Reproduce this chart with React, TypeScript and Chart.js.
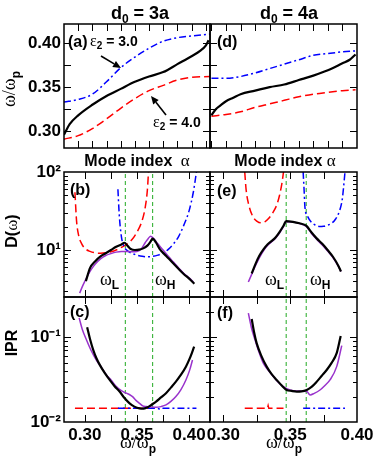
import React, { useEffect, useRef } from 'react';
import { Chart, registerables } from 'chart.js';
Chart.register(...registerables);

// ---------------- data ----------------
// (a) d0 = 3a : omega/omega_p vs mode index
const aIdxBlack = [0, 4, 10, 20, 30, 40, 50, 60, 70, 80, 90, 96, 100, 102];
const aBlack = [0.296, 0.308, 0.318, 0.330, 0.340, 0.348, 0.356, 0.362, 0.367, 0.376, 0.385, 0.391, 0.397, 0.403];
const aIdx = [0, 10, 20, 30, 40, 50, 60, 70, 80, 90, 103];
const aRed = [0.291, 0.295, 0.303, 0.314, 0.326, 0.337, 0.346, 0.352, 0.358, 0.361, 0.362];
const aBlue = [0.333, 0.336, 0.342, 0.356, 0.372, 0.384, 0.394, 0.402, 0.406, 0.408, 0.410];

// (d) d0 = 4a
const dIdxBlack = [0, 3, 6, 10, 15, 20, 30, 40, 50, 60, 70, 80, 90, 95, 99];
const dBlack = [0.318, 0.325, 0.329, 0.334, 0.338, 0.342, 0.346, 0.350, 0.353, 0.358, 0.363, 0.369, 0.377, 0.381, 0.387];
const dIdx = [0, 10, 20, 30, 40, 50, 60, 70, 80, 90, 99];
const dRed = [0.317, 0.319, 0.322, 0.327, 0.331, 0.335, 0.339, 0.342, 0.344, 0.346, 0.347];
const dBlue = [0.360, 0.360, 0.362, 0.366, 0.371, 0.376, 0.381, 0.386, 0.388, 0.390, 0.391];

// (b) DOS, d0 = 3a
const bRedW = [0.2905, 0.292, 0.294, 0.297, 0.300, 0.305, 0.310, 0.315, 0.320, 0.325, 0.330, 0.335, 0.340, 0.345, 0.350, 0.355, 0.358, 0.360, 0.361];
const bRedD = [55, 24, 15.5, 12, 10.5, 9.6, 9.2, 9.1, 9.2, 9.5, 10, 10.8, 11.8, 13.5, 17, 24, 36, 60, 100];
const bBlueW = [0.3317, 0.333, 0.335, 0.337, 0.340, 0.345, 0.350, 0.355, 0.360, 0.365, 0.370, 0.375, 0.380, 0.385, 0.390, 0.395, 0.400, 0.404, 0.407];
const bBlueD = [60, 28, 15, 11.5, 10, 9.1, 8.6, 8.3, 8.2, 8.3, 8.6, 9.1, 10.2, 12, 15, 21, 32, 55, 100];
const bBlackW = [0.301, 0.305, 0.310, 0.315, 0.320, 0.325, 0.330, 0.335, 0.338, 0.341, 0.344, 0.348, 0.352, 0.356, 0.360, 0.363, 0.365, 0.368, 0.372, 0.378, 0.384, 0.390, 0.395, 0.400, 0.405];
const bBlackD = [4.0, 5.9, 7.2, 8.3, 9.1, 10.0, 11.0, 11.8, 12.4, 11.3, 10.3, 10.0, 10.1, 10.5, 11.4, 12.8, 14.0, 12.6, 10.2, 8.4, 6.9, 5.7, 4.9, 4.3, 3.7];
const bPurpleW = [0.295, 0.298, 0.302, 0.306, 0.310, 0.315, 0.320, 0.325, 0.330, 0.335, 0.340, 0.345, 0.350, 0.354, 0.358, 0.361, 0.363, 0.366, 0.370, 0.375, 0.380, 0.385, 0.390, 0.395, 0.400, 0.404];
const bPurpleD = [2.8, 3.5, 4.5, 5.6, 6.6, 7.7, 8.5, 9.0, 9.4, 9.6, 9.6, 9.5, 9.6, 10.3, 12.5, 14.2, 15.0, 14.0, 12.0, 10.0, 8.3, 7.0, 5.9, 5.0, 4.4, 3.9];

// (e) DOS, d0 = 4a
const eRedW = [0.316, 0.317, 0.319, 0.322, 0.325, 0.328, 0.331, 0.334, 0.337, 0.340, 0.342, 0.344, 0.345];
const eRedD = [100, 60, 38, 27, 23.5, 22.3, 23, 25.5, 30, 38, 50, 75, 100];
const eBlueW = [0.3597, 0.3605, 0.361, 0.363, 0.366, 0.369, 0.372, 0.375, 0.378, 0.381, 0.384, 0.387, 0.389, 0.390, 0.391];
const eBlueD = [100, 55, 36, 27, 22.5, 20.8, 20, 20.2, 20.8, 22, 25, 32, 45, 65, 100];
const eBlackW = [0.3212, 0.324, 0.327, 0.330, 0.333, 0.336, 0.339, 0.342, 0.345, 0.347, 0.352, 0.357, 0.362, 0.366, 0.370, 0.374, 0.378, 0.382, 0.386, 0.388];
const eBlackD = [5.0, 6.6, 8.5, 10.2, 11.8, 13.0, 14.5, 17, 20.5, 23.5, 23, 22, 20.5, 16.8, 14, 12, 10, 8.2, 6.3, 5.3];
const ePurpleW = [0.3187, 0.321, 0.324, 0.327, 0.330, 0.333, 0.336, 0.339, 0.342, 0.345, 0.347, 0.352, 0.357, 0.362, 0.366, 0.370, 0.374, 0.378, 0.382, 0.386, 0.388];
const ePurpleD = [3.9, 4.8, 6.3, 8.0, 9.8, 11.4, 12.7, 14.2, 16.5, 20, 23, 22.8, 21.8, 20, 16.3, 13.6, 11.6, 9.7, 8.0, 6.2, 5.3];

// (c) IPR, d0 = 3a
const cBlackW = [0.3022, 0.305, 0.308, 0.311, 0.3143, 0.319, 0.3238, 0.3285, 0.3333, 0.338, 0.3429, 0.3475, 0.3524, 0.3565, 0.3603, 0.364, 0.3683, 0.373, 0.3778, 0.3825, 0.3873, 0.392, 0.3969, 0.401, 0.4048];
const cBlackI = [0.132, 0.095, 0.0712, 0.057, 0.0473, 0.038, 0.0314, 0.0265, 0.0229, 0.0192, 0.0166, 0.0152, 0.0145, 0.0144, 0.0149, 0.016, 0.0174, 0.0195, 0.0219, 0.0255, 0.030, 0.036, 0.0451, 0.058, 0.0778];
const cPurpleW = [0.2945, 0.2975, 0.3016, 0.306, 0.311, 0.316, 0.3207, 0.3255, 0.3302, 0.335, 0.3397, 0.343, 0.346, 0.349, 0.3524, 0.3555, 0.3587, 0.3635, 0.3683, 0.373, 0.3778, 0.3825, 0.3873, 0.392, 0.3969, 0.4005, 0.4032];
const cPurpleI = [0.17, 0.125, 0.093, 0.07, 0.054, 0.044, 0.036, 0.031, 0.0262, 0.0235, 0.0219, 0.021, 0.0198, 0.018, 0.0166, 0.0155, 0.0152, 0.015, 0.0149, 0.0152, 0.0159, 0.0175, 0.020, 0.024, 0.0314, 0.041, 0.054];
const cRedW = [0.2905, 0.300, 0.310, 0.320, 0.330, 0.340, 0.350, 0.361];
const cRedI = [0.0145, 0.0145, 0.0145, 0.0145, 0.0145, 0.0145, 0.0145, 0.0145];
const cBlueW = [0.3317, 0.340, 0.350, 0.360, 0.370, 0.372, 0.374, 0.380, 0.390, 0.400, 0.407];
const cBlueI = [0.0145, 0.0145, 0.0145, 0.0145, 0.0145, 0.0141, 0.0145, 0.0145, 0.0145, 0.0145, 0.0145];

// (f) IPR, d0 = 4a
const fBlackW = [0.3212, 0.323, 0.3249, 0.3285, 0.3324, 0.336, 0.3399, 0.3435, 0.3474, 0.351, 0.3549, 0.3585, 0.3624, 0.366, 0.3699, 0.3735, 0.3773, 0.381, 0.3848, 0.3878];
const fBlackI = [0.165, 0.115, 0.0854, 0.06, 0.0451, 0.037, 0.0314, 0.0272, 0.0239, 0.0233, 0.0229, 0.023, 0.0239, 0.026, 0.030, 0.035, 0.0412, 0.05, 0.065, 0.104];
const fPurpleW = [0.3187, 0.321, 0.3237, 0.3265, 0.3299, 0.3335, 0.3374, 0.341, 0.3449, 0.3499, 0.355, 0.3624, 0.3649, 0.368, 0.3723, 0.376, 0.3798, 0.3848, 0.3886];
const fPurpleI = [0.193, 0.13, 0.0934, 0.068, 0.0495, 0.041, 0.0344, 0.0295, 0.0262, 0.0239, 0.0232, 0.0229, 0.0209, 0.0218, 0.0239, 0.027, 0.0314, 0.0451, 0.080];
const fRedW = [0.316, 0.325, 0.333, 0.3335, 0.334, 0.345];
const fRedI = [0.0145, 0.0145, 0.0145, 0.0156, 0.0145, 0.0145];
const fBlueW = [0.3597, 0.370, 0.380, 0.391];
const fBlueI = [0.0145, 0.0145, 0.0145, 0.0145];

// vertical markers omega_L, omega_H
const omegaLH3 = [0.3388, 0.365];
const omegaLH4 = [0.347, 0.362];

// axis ticks
const idxTicks3 = [0, 10, 20, 30, 40, 50, 60, 70, 80, 90, 100];
const idxTicks4 = [0, 10, 20, 30, 40, 50, 60, 70, 80, 90];
const freqTicks = [0.30, 0.325, 0.35, 0.375, 0.40];
const freqLabels = [0.30, 0.35, 0.40];
const dosTicks = [3, 4, 5, 6, 7, 8, 9, 10, 20, 30, 40, 50, 60, 70, 80, 90, 100];
const dosMajor = [10, 100];
const iprTicks = [0.01, 0.02, 0.03, 0.04, 0.05, 0.06, 0.07, 0.08, 0.09, 0.1, 0.2, 0.3];
const iprMajor = [0.01, 0.1];

// ---------------- layout / style ----------------
const CW = 420, CH = 500;
const FONT = "'Liberation Sans', Arial, Helvetica, sans-serif";
const SERIF = "'Liberation Serif', 'Times New Roman', serif";
const LEFT = [64, 210];
const RIGHT = [210, 357];
const ROW_A = [24, 148];
const ROW_B = [172, 297];
const ROW_C = [297, 422];

const pts = (xs: number[], ys: number[]) => xs.map((x, i) => ({ x, y: ys[i] }));
const near = (arr: number[], v: number) => arr.some((a) => Math.abs(a - v) < 1e-9);
const sup: Record<string, string> = { '100': '10²', '10': '10¹', '0.1': '10⁻¹', '0.01': '10⁻²' };

const sBlack = { borderColor: '#000000', borderWidth: 2.2 };
const sPurple = { borderColor: '#9933cc', borderWidth: 1.5 };
const sRed = { borderColor: '#ff0000', borderWidth: 1.5, borderDash: [8, 4] };
const sBlue = { borderColor: '#0000ff', borderWidth: 1.5, borderDash: [7, 3, 2, 3] };
const sGreen = { borderColor: '#22aa22', borderWidth: 1, borderDash: [4, 3] };

function ds(style: any, data: any[], smooth = true) {
  return {
    data,
    ...style,
    pointRadius: 0,
    fill: false,
    cubicInterpolationMode: smooth ? 'monotone' : 'default',
    tension: 0,
  };
}

function vlines(ws: number[], y0: number, y1: number) {
  return ws.map((w) => ds(sGreen, [{ x: w, y: y0 }, { x: w, y: y1 }], false));
}

const frameTicks = {
  id: 'frameTicks',
  afterDatasetsDraw(chart: any) {
    const { ctx, chartArea: a } = chart;
    const xs = chart.scales.x;
    const ys = chart.scales.y;
    ctx.save();
    ctx.strokeStyle = '#000';
    ctx.lineWidth = 1;
    ctx.beginPath();
    for (const t of xs.ticks) {
      const p = Math.round(xs.getPixelForValue(t.value)) + 0.5;
      if (p < a.left + 1 || p > a.right - 1) continue;
      const len = t.major ? 7 : 4;
      ctx.moveTo(p, a.bottom);
      ctx.lineTo(p, a.bottom - len);
      ctx.moveTo(p, a.top);
      ctx.lineTo(p, a.top + len);
    }
    for (const t of ys.ticks) {
      const p = Math.round(ys.getPixelForValue(t.value)) + 0.5;
      if (p < a.top + 1 || p > a.bottom - 1) continue;
      const len = t.major ? 7 : 4;
      ctx.moveTo(a.left, p);
      ctx.lineTo(a.left + len, p);
      ctx.moveTo(a.right, p);
      ctx.lineTo(a.right - len, p);
    }
    ctx.stroke();
    ctx.lineWidth = 1.5;
    ctx.strokeRect(a.left, a.top, a.right - a.left, a.bottom - a.top);
    ctx.restore();
  },
};

type AxisSpec = {
  type: 'linear' | 'logarithmic';
  min: number;
  max: number;
  ticks: number[];
  major?: number[];
  labels?: number[];
  fmt?: (v: number) => string;
};

type PanelSpec = {
  xr: number[];
  yr: number[];
  x: AxisSpec;
  y: AxisSpec;
  showX: boolean;
  showY: boolean;
  datasets: any[];
};

function axis(spec: AxisSpec, show: boolean, isX: boolean, size: number) {
  return {
    type: spec.type,
    min: spec.min,
    max: spec.max,
    afterBuildTicks: (s: any) => {
      s.ticks = spec.ticks.map((v) => ({ value: v, major: spec.major ? near(spec.major, v) : true }));
    },
    afterFit: (s: any) => {
      if (isX) s.height = size;
      else s.width = size;
    },
    ticks: {
      display: show,
      autoSkip: false,
      maxRotation: 0,
      minRotation: 0,
      padding: 3,
      color: '#000',
      font: { family: FONT, size: 17, weight: 'bold' },
      callback: (v: number) => (spec.labels && near(spec.labels, v) && spec.fmt ? spec.fmt(v) : ''),
    },
    grid: { display: false, drawTicks: false },
    border: { display: false },
  };
}

function buildConfig(p: PanelSpec): any {
  const xAxisH = p.showX ? 40 : 0;
  const yAxisW = p.showY ? p.xr[0] : 0;
  return {
    type: 'line',
    data: { datasets: p.datasets },
    plugins: [frameTicks],
    options: {
      responsive: false,
      animation: false,
      events: [],
      parsing: true,
      layout: {
        padding: {
          left: p.showY ? 0 : p.xr[0],
          right: CW - p.xr[1],
          top: p.yr[0],
          bottom: CH - p.yr[1] - xAxisH,
        },
      },
      plugins: { legend: { display: false }, tooltip: { enabled: false }, title: { display: false } },
      scales: {
        x: axis(p.x, p.showX, true, xAxisH),
        y: axis(p.y, p.showY, false, yAxisW),
      },
    },
  };
}

const fmt2 = (v: number) => v.toFixed(2);
const fmtPow = (v: number) => sup[String(v)] || '';

const freqAxis: AxisSpec = { type: 'linear', min: 0.281, max: 0.4215, ticks: freqTicks, labels: freqLabels, fmt: fmt2 };
const dosAxis: AxisSpec = { type: 'logarithmic', min: 2.5, max: 100, ticks: dosTicks, major: dosMajor, labels: dosMajor, fmt: fmtPow };
const iprAxis: AxisSpec = { type: 'logarithmic', min: 0.01, max: 0.3, ticks: iprTicks, major: iprMajor, labels: iprMajor, fmt: fmtPow };
const w3Axis: AxisSpec = { type: 'linear', min: 0.28, max: 0.42, ticks: freqTicks, labels: freqLabels, fmt: fmt2 };
const w4Axis: AxisSpec = { type: 'linear', min: 0.29, max: 0.40, ticks: freqTicks, labels: freqLabels, fmt: fmt2 };

const panels: PanelSpec[] = [
  {
    xr: LEFT, yr: ROW_A, showX: false, showY: true,
    x: { type: 'linear', min: 0, max: 103, ticks: idxTicks3 },
    y: freqAxis,
    datasets: [ds(sBlack, pts(aIdxBlack, aBlack)), ds(sBlue, pts(aIdx, aBlue)), ds(sRed, pts(aIdx, aRed))],
  },
  {
    xr: RIGHT, yr: ROW_A, showX: false, showY: false,
    x: { type: 'linear', min: -1, max: 100, ticks: idxTicks4 },
    y: freqAxis,
    datasets: [ds(sBlack, pts(dIdxBlack, dBlack)), ds(sBlue, pts(dIdx, dBlue)), ds(sRed, pts(dIdx, dRed))],
  },
  {
    xr: LEFT, yr: ROW_B, showX: false, showY: true,
    x: w3Axis, y: dosAxis,
    datasets: [
      ds(sBlack, pts(bBlackW, bBlackD)),
      ds(sPurple, pts(bPurpleW, bPurpleD)),
      ds(sBlue, pts(bBlueW, bBlueD)),
      ds(sRed, pts(bRedW, bRedD)),
      ...vlines(omegaLH3, 2.5, 100),
    ],
  },
  {
    xr: RIGHT, yr: ROW_B, showX: false, showY: false,
    x: w4Axis, y: dosAxis,
    datasets: [
      ds(sBlack, pts(eBlackW, eBlackD)),
      ds(sPurple, pts(ePurpleW, ePurpleD)),
      ds(sBlue, pts(eBlueW, eBlueD)),
      ds(sRed, pts(eRedW, eRedD)),
      ...vlines(omegaLH4, 2.5, 100),
    ],
  },
  {
    xr: LEFT, yr: ROW_C, showX: true, showY: true,
    x: w3Axis, y: iprAxis,
    datasets: [
      ds(sBlack, pts(cBlackW, cBlackI)),
      ds(sPurple, pts(cPurpleW, cPurpleI)),
      ds(sBlue, pts(cBlueW, cBlueI), false),
      ds(sRed, pts(cRedW, cRedI), false),
      ...vlines(omegaLH3, 0.01, 0.3),
    ],
  },
  {
    xr: RIGHT, yr: ROW_C, showX: true, showY: false,
    x: w4Axis, y: iprAxis,
    datasets: [
      ds(sBlack, pts(fBlackW, fBlackI)),
      ds(sPurple, pts(fPurpleW, fPurpleI)),
      ds(sBlue, pts(fBlueW, fBlueI), false),
      ds(sRed, pts(fRedW, fRedI), false),
      ...vlines(omegaLH4, 0.01, 0.3),
    ],
  },
];

function Panel({ spec }: { spec: PanelSpec }) {
  const ref = useRef<HTMLCanvasElement>(null);
  useEffect(() => {
    const chart = new Chart(ref.current as HTMLCanvasElement, buildConfig(spec));
    return () => chart.destroy();
  }, [spec]);
  return (
    <canvas
      ref={ref}
      width={CW}
      height={CH}
      style={{ position: 'absolute', left: 0, top: 0, width: CW, height: CH }}
    />
  );
}

function Arrow({ x1, y1, x2, y2 }: { x1: number; y1: number; x2: number; y2: number }) {
  const dx = x2 - x1, dy = y2 - y1;
  const L = Math.hypot(dx, dy);
  const ux = dx / L, uy = dy / L;
  const hl = 8, hw = 3.5;
  const bx = x2 - ux * hl, by = y2 - uy * hl;
  return (
    <g>
      <line x1={x1} y1={y1} x2={bx} y2={by} stroke="#000" strokeWidth={1.6} />
      <polygon points={`${x2},${y2} ${bx - uy * hw},${by + ux * hw} ${bx + uy * hw},${by - ux * hw}`} fill="#000" />
    </g>
  );
}

function OmegaSub({ x, y, sub }: { x: number; y: number; sub: string }) {
  return (
    <text x={x} y={y}>
      <tspan fontFamily={SERIF} fontWeight="normal" fontSize={18}>ω</tspan>
      <tspan fontSize={12} dy={4}>{sub}</tspan>
    </text>
  );
}

function OmegaRatio({ x, y, rotate }: { x: number; y: number; rotate?: boolean }) {
  return (
    <text x={0} y={0} textAnchor="middle" transform={`translate(${x},${y})${rotate ? ' rotate(-90)' : ''}`}>
      <tspan fontFamily={SERIF} fontWeight="normal" fontSize={18}>ω/ω</tspan>
      <tspan fontSize={12} dy={5}>p</tspan>
    </text>
  );
}

export default function App() {
  return (
    <div style={{ position: 'absolute', left: 0, top: 0, width: 374, height: 468, overflow: 'hidden', background: '#fff' }}>
      {panels.map((p, i) => (
        <Panel key={i} spec={p} />
      ))}
      <svg
        width={374}
        height={468}
        style={{ position: 'absolute', left: 0, top: 0, pointerEvents: 'none' }}
        fontFamily={FONT}
        fontWeight="bold"
        fill="#000"
      >
        <text x={140} y={18.5} textAnchor="middle" fontSize={18}>
          d<tspan fontSize={12} dy={4}>0</tspan>
          <tspan dy={-4}> = 3a</tspan>
        </text>
        <text x={289} y={18.5} textAnchor="middle" fontSize={18}>
          d<tspan fontSize={12} dy={4}>0</tspan>
          <tspan dy={-4}> = 4a</tspan>
        </text>

        <text x={68} y={46.5} fontSize={16}>(a)</text>
        <text x={90} y={46} fontSize={14}>
          <tspan fontFamily={SERIF} fontWeight="normal" fontSize={16}>ε</tspan>
          <tspan fontSize={10} dy={3}>2</tspan>
          <tspan dy={-3}> = 3.0</tspan>
        </text>
        <Arrow x1={101} y1={56} x2={121} y2={68} />
        <text x={153} y={127} fontSize={14}>
          <tspan fontFamily={SERIF} fontWeight="normal" fontSize={16}>ε</tspan>
          <tspan fontSize={10} dy={3}>2</tspan>
          <tspan dy={-3}> = 4.0</tspan>
        </text>
        <Arrow x1={166} y1={115} x2={151} y2={96} />
        <text x={217} y={47} fontSize={16}>(d)</text>

        <text x={137} y={166} textAnchor="middle" fontSize={16}>
          Mode index <tspan fontFamily={SERIF} fontWeight="normal" fontSize={17} dx={4}>α</tspan>
        </text>
        <text x={285} y={166} textAnchor="middle" fontSize={16}>
          Mode index <tspan fontFamily={SERIF} fontWeight="normal" fontSize={17}>α</tspan>
        </text>

        <text x={70} y={195} fontSize={16}>(b)</text>
        <text x={217} y={196} fontSize={16}>(e)</text>
        <OmegaSub x={100} y={285} sub="L" />
        <OmegaSub x={155} y={285} sub="H" />
        <OmegaSub x={265} y={285} sub="L" />
        <OmegaSub x={310} y={285} sub="H" />

        <text x={70} y={317} fontSize={16}>(c)</text>
        <text x={217} y={318} fontSize={16}>(f)</text>

        <OmegaRatio x={14.5} y={89} rotate />
        <text x={0} y={0} textAnchor="middle" fontSize={16} transform="translate(17,231) rotate(-90)">
          D(<tspan fontFamily={SERIF} fontWeight="normal" fontSize={17}>ω</tspan>)
        </text>
        <text x={0} y={0} textAnchor="middle" fontSize={16} transform="translate(17,343) rotate(-90)">IPR</text>

        <OmegaRatio x={138} y={448} />
        <OmegaRatio x={284} y={448} />
      </svg>
    </div>
  );
}
